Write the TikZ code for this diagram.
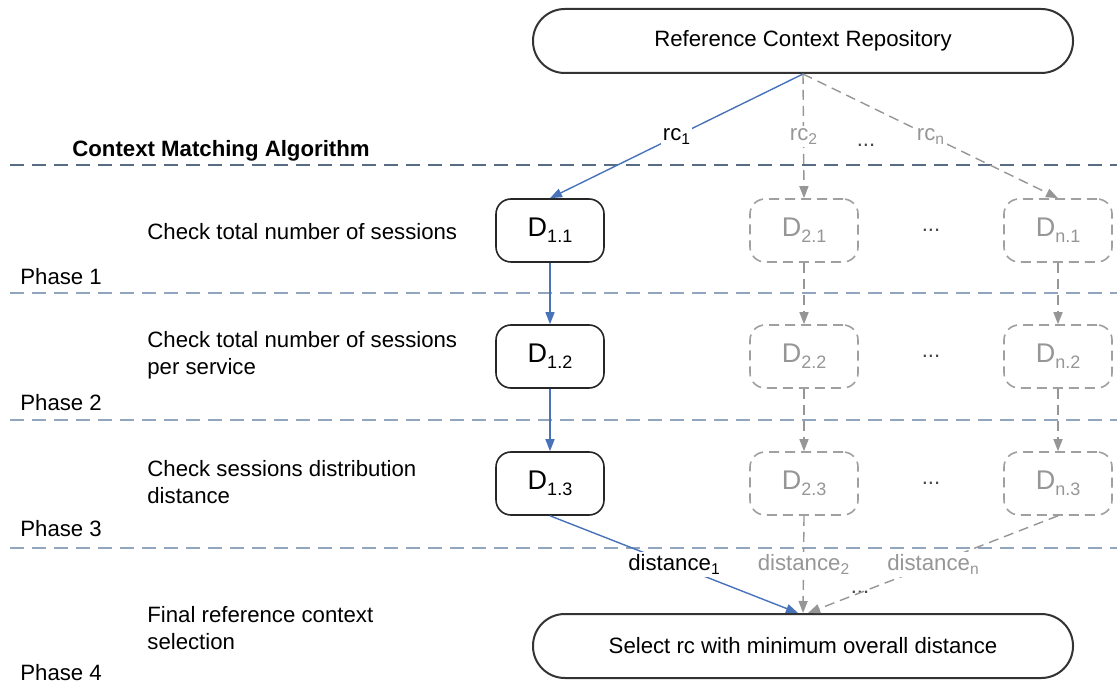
\documentclass[tikz,border=0pt]{standalone}
\usepackage{fontspec}
\setmainfont{Liberation Sans}
\usetikzlibrary{arrows.meta}

\definecolor{flowblue}{RGB}{72,114,186}
\definecolor{altgray}{RGB}{150,150,150}
\definecolor{alttext}{RGB}{150,150,150}
\definecolor{sepdark}{RGB}{88,108,132}
\definecolor{seplight}{RGB}{145,165,190}
\definecolor{dotgray}{RGB}{70,70,70}

% lowered indices for labels and for the D boxes
\newcommand\lsub[1]{\raisebox{-0.35ex}{\fontsize{7.8}{8}\selectfont #1}}
\newcommand\dsub[1]{\raisebox{-0.4ex}{\fontsize{9}{10}\selectfont #1}}

\begin{document}
\begin{tikzpicture}[x=0.5pt,y=-0.5pt,
  txt/.style={font=\fontsize{11.1}{13.5}\selectfont, inner sep=0pt, align=left},
  stadium/.style={draw=black!80, line width=1pt, rounded corners=15.9pt,
    minimum width=270pt, minimum height=32pt, fill=white,
    font=\fontsize{11.1}{13.5}\selectfont},
  dbox/.style={line width=0.8pt, rounded corners=7.5pt, minimum width=54pt,
    minimum height=31.5pt, fill=white, font=\fontsize{13.5}{15}\selectfont},
  dsolid/.style={dbox, draw=black!85},
  ddash/.style={dbox, draw=altgray!90, dash pattern=on 5pt off 3pt, text=alttext},
  tip/.style={-{Triangle[length=6pt,width=4.5pt]}},
  flow/.style={draw=flowblue, line width=0.7pt, tip},
  alt/.style={draw=altgray, line width=0.7pt, dash pattern=on 5pt off 3pt, tip},
  lbl/.style={font=\fontsize{11.1}{13.5}\selectfont, fill=white, inner sep=1.2pt},
  altlbl/.style={lbl, text=alttext},
  sep/.style={line width=0.75pt, dash pattern=on 7pt off 4pt},
  dots/.style={font=\fontsize{11.1}{13.5}\selectfont, text=dotgray, inner sep=0pt}]

\useasboundingbox (0,0) rectangle (1117,688);

% phase separators
\draw[sep, sepdark] (10,165) -- (1117,165);
\draw[sep, seplight] (10,293) -- (1117,293);
\draw[sep, seplight] (10,420) -- (1117,420);
\draw[sep, seplight] (10,548) -- (1117,548);

% left column: title, steps and phase names
\node[txt, anchor=west, font=\fontsize{11.1}{13.5}\selectfont\bfseries] (title) at (72,151) {Context Matching Algorithm};
\node[txt, anchor=west] (step1) at (147,232) {Check total number of sessions};
\node[txt, anchor=west] (step2) at (147,355) {Check total number of sessions\\per service};
\node[txt, anchor=west] (step3) at (147,482) {Check sessions distribution\\distance};
\node[txt, anchor=west] (step4) at (147,628) {Final reference context\\selection};
\node[txt, anchor=west] (ph1) at (20,277) {Phase 1};
\node[txt, anchor=west] (ph2) at (20,403) {Phase 2};
\node[txt, anchor=west] (ph3) at (20,529) {Phase 3};
\node[txt, anchor=west] (ph4) at (20,673) {Phase 4};

% repository and final selection
\node[stadium] (repo) at (803,41) {Reference Context Repository};
\node[stadium] (select) at (803,646) {Select rc with minimum overall distance};

% distance boxes
\node[dsolid] (d11) at (550,230.5) {D\dsub{1.1}};
\node[dsolid] (d12) at (550,356.5) {D\dsub{1.2}};
\node[dsolid] (d13) at (550,483.5) {D\dsub{1.3}};
\node[ddash] (d21) at (804,230.5) {D\dsub{2.1}};
\node[ddash] (d22) at (804,356.5) {D\dsub{2.2}};
\node[ddash] (d23) at (804,483.5) {D\dsub{2.3}};
\node[ddash] (dn1) at (1058,230.5) {D\dsub{n.1}};
\node[ddash] (dn2) at (1058,356.5) {D\dsub{n.2}};
\node[ddash] (dn3) at (1058,483.5) {D\dsub{n.3}};

\node[dots] (dr1) at (931,230) {...};
\node[dots] (dr2) at (931,356) {...};
\node[dots] (dr3) at (931,483) {...};
\node[dots] (dtop) at (866,145) {...};
\node[dots] (dbot) at (860,592) {...};

% reference contexts
\draw[flow] (repo.south) -- node[lbl] {rc\lsub{1}} (d11.north);
\draw[alt] (repo.south) -- node[altlbl] {rc\lsub{2}} (d21.north);
\draw[alt] (repo.south) -- node[altlbl] {rc\lsub{n}} (dn1.north);

% phase chains
\draw[flow] (d11) -- (d12);
\draw[flow] (d12) -- (d13);
\draw[alt] (d21) -- (d22);
\draw[alt] (d22) -- (d23);
\draw[alt] (dn1) -- (dn2);
\draw[alt] (dn2) -- (dn3);

% overall distances
\draw[flow] (d13.south) -- node[lbl] {distance\lsub{1}} ([xshift=-2.5pt]select.north);
\draw[alt] (d23.south) -- node[altlbl] {distance\lsub{2}} (select.north);
\draw[alt] (dn3.south) -- node[altlbl] {distance\lsub{n}} ([xshift=2.5pt]select.north);

\end{tikzpicture}
\end{document}
